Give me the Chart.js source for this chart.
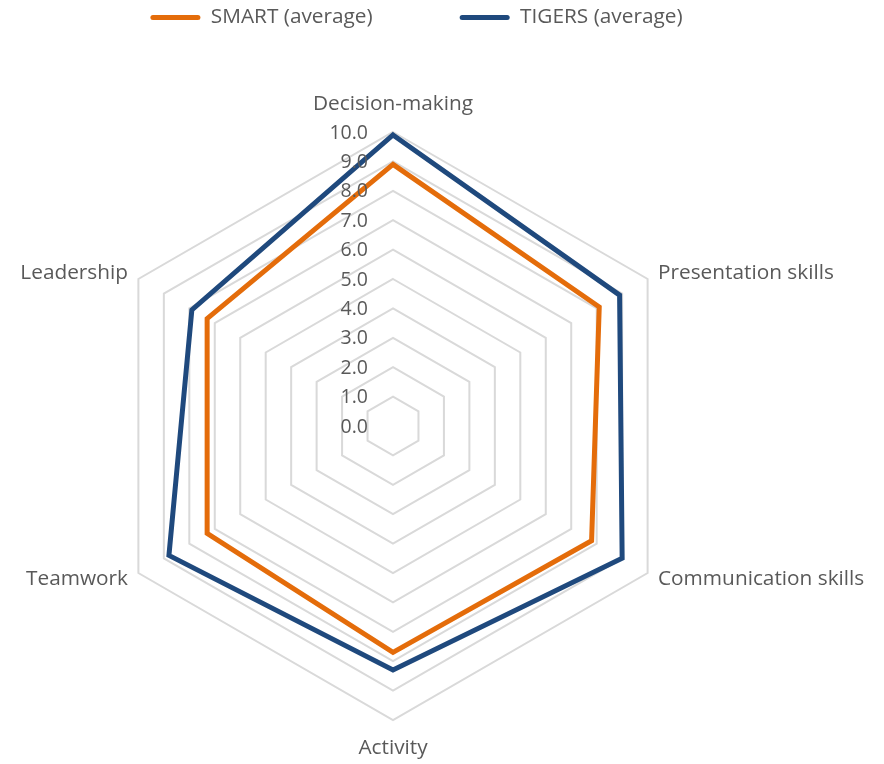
<!DOCTYPE html>
<html>
<head>
<meta charset="utf-8">
<script src="https://cdn.jsdelivr.net/npm/chart.js@4.4.1/dist/chart.umd.min.js"></script>
<style>
  html, body { margin: 0; padding: 0; background: #fff; }
  #wrap { width: 884px; height: 764px; position: relative; }
</style>
</head>
<body>
<div id="wrap"><canvas id="radar"></canvas></div>
<script>
// skill areas, clockwise from the top
var categories = ['Decision-making', 'Presentation skills', 'Communication skills', 'Activity', 'Teamwork', 'Leadership'];
var smartAvg = [8.9, 8.1, 7.8, 7.7, 7.3, 7.3];
var tigersAvg = [9.9, 8.9, 9.0, 8.3, 8.8, 7.9];
var seriesNames = ['SMART (average)', 'TIGERS (average)'];
var seriesColors = ['#E46C0A', '#1F497D'];
var tickLabels = ['0.0', '1.0', '2.0', '3.0', '4.0', '5.0', '6.0', '7.0', '8.0', '9.0', '10.0'];

var textColor = '#595959';
var fontFamily = '"Open Sans", Lato, sans-serif';
var labelSize = 20.8;
var tickSize = 19.5;

// tick labels sit left of the vertical axis, category names outside the web
var radarText = {
  id: 'radarText',
  afterDatasetsDraw: function(chart) {
    var scale = chart.scales.r;
    var ctx = chart.ctx;
    ctx.save();
    ctx.fillStyle = textColor;
    ctx.textBaseline = 'middle';

    ctx.font = tickSize + 'px ' + fontFamily;
    ctx.textAlign = 'right';
    scale.ticks.forEach(function(t, i) {
      var d = scale.getDistanceFromCenterForValue(t.value);
      ctx.fillText(tickLabels[i], scale.xCenter - 25, scale.yCenter - d + 1);
    });

    ctx.font = labelSize + 'px ' + fontFamily;
    categories.forEach(function(name, i) {
      var edge = scale.getPointPosition(i, scale.drawingArea);
      var dx = edge.x - scale.xCenter;
      var centred = Math.abs(dx) < 1;
      var p = scale.getPointPosition(i, scale.drawingArea + (centred ? 28 : 12));
      ctx.textAlign = centred ? 'center' : (dx > 0 ? 'left' : 'right');
      ctx.fillText(name, p.x, p.y);
    });
    ctx.restore();
  }
};

function makeSeries(label, data, color) {
  return {
    label: label,
    data: data,
    borderColor: color,
    backgroundColor: color,
    borderWidth: 5,
    borderJoinStyle: 'miter',
    pointRadius: 0,
    pointHoverRadius: 0,
    fill: false,
    tension: 0
  };
}

new Chart(document.getElementById('radar'), {
  type: 'radar',
  data: {
    labels: categories,
    datasets: [
      makeSeries(seriesNames[0], smartAvg, seriesColors[0]),
      makeSeries(seriesNames[1], tigersAvg, seriesColors[1])
    ]
  },
  options: {
    responsive: true,
    maintainAspectRatio: false,
    animation: false,
    layout: { padding: { top: -80, right: 51, left: 0, bottom: 0 } },
    plugins: {
      legend: {
        position: 'top',
        labels: {
          boxWidth: 50,
          boxHeight: 5,
          padding: 87,
          color: textColor,
          font: { family: fontFamily, size: labelSize },
          useBorderRadius: true,
          borderRadius: 2.5,
          generateLabels: function(chart) {
            var items = Chart.defaults.plugins.legend.labels.generateLabels(chart);
            items.forEach(function(it) { it.lineWidth = 0; it.fillStyle = it.strokeStyle; });
            return items;
          }
        }
      },
      tooltip: { enabled: false }
    },
    scales: {
      r: {
        min: 0,
        max: 10,
        ticks: { stepSize: 1, display: false },
        grid: { color: '#D9D9D9', lineWidth: 2 },
        angleLines: { display: false },
        pointLabels: { display: false },
        afterFit: function(scale) {
          scale.xCenter = 393;
          scale.yCenter = 426;
          scale.drawingArea = 294;
        }
      }
    }
  },
  plugins: [radarText]
});
</script>
</body>
</html>
